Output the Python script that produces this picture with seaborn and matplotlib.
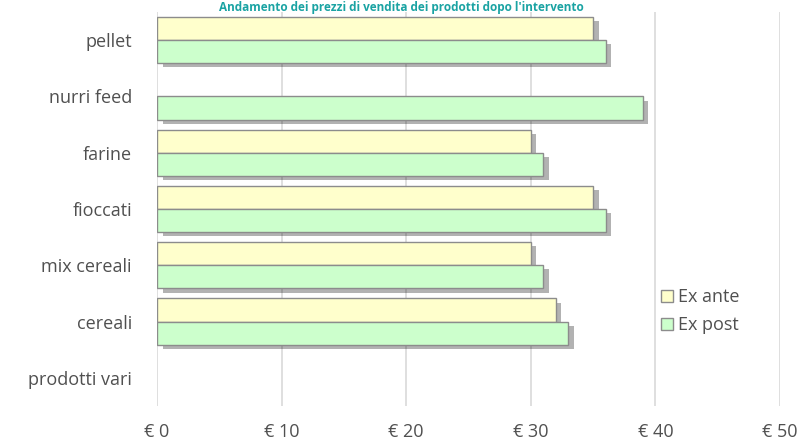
import matplotlib
matplotlib.use("Agg")
import matplotlib.pyplot as plt
import matplotlib.patheffects as pe
import numpy as np
import pandas as pd
import seaborn as sns

categories = ["pellet", "nurri feed", "farine", "fioccati", "mix cereali", "cereali", "prodotti vari"]
ex_ante = [35, np.nan, 30, 35, 30, 32, np.nan]
ex_post = [36, 39, 31, 36, 31, 33, np.nan]
series = ["Ex ante", "Ex post"]
xticks = [0, 10, 20, 30, 40, 50]
title = "Andamento dei prezzi di vendita dei prodotti dopo l'intervento"

df = pd.DataFrame({
    "categoria": categories * 2,
    "valore": ex_ante + ex_post,
    "serie": [series[0]] * len(categories) + [series[1]] * len(categories),
})

sns.set_theme(style="white")
plt.rcParams["font.family"] = ["Open Sans", "DejaVu Sans"]

fig = plt.figure(figsize=(8.03, 4.43), dpi=100)
ax = fig.add_axes([157 / 803, 1 - 406 / 443, (780 - 157) / 803, (406 - 12) / 443])

palette = {"Ex ante": "#FFFFCC", "Ex post": "#CCFFCC"}
sns.barplot(data=df, y="categoria", x="valore", hue="serie", order=categories,
            hue_order=series, palette=palette, orient="h", width=0.82,
            edgecolor="#8c8c8c", linewidth=1.0, saturation=1, ax=ax, zorder=3)

for p in ax.patches:
    p.set_path_effects([pe.SimplePatchShadow(offset=(4, -3), shadow_rgbFace="#000000", alpha=0.3),
                        pe.Normal()])

text_color = "#505050"
ax.set_xlim(0, 50)
ax.set_xticks(xticks)
ax.set_xticklabels([f"€ {v}" for v in xticks], fontsize=13, color=text_color)
ax.tick_params(axis="x", length=0, pad=12)
ax.tick_params(axis="y", length=0, pad=18, labelsize=13, labelcolor=text_color)
ax.set_xlabel("")
ax.set_ylabel("")
ax.grid(axis="x", color="#d9d9d9", linewidth=1.2, zorder=0)
ax.set_axisbelow(True)
for s in ax.spines.values():
    s.set_visible(False)

leg = ax.legend(loc="upper left", bbox_to_anchor=((661 - 157) / (780 - 157), 1 - (288 - 12) / (406 - 12)),
                frameon=False, fontsize=13, handlelength=0.65, handleheight=0.65,
                handletextpad=0.3, labelspacing=0.55, borderpad=0, borderaxespad=0)
for t in leg.get_texts():
    t.set_color(text_color)
for h in leg.legend_handles:
    h.set_edgecolor("#8c8c8c")
    h.set_path_effects([])

fig.text(0.5, 1.0 - 1 / 443, title, ha="center", va="top", fontsize=8.5,
         fontweight="bold", color="#1aa3a3")

fig.savefig("out.png", dpi=100)
